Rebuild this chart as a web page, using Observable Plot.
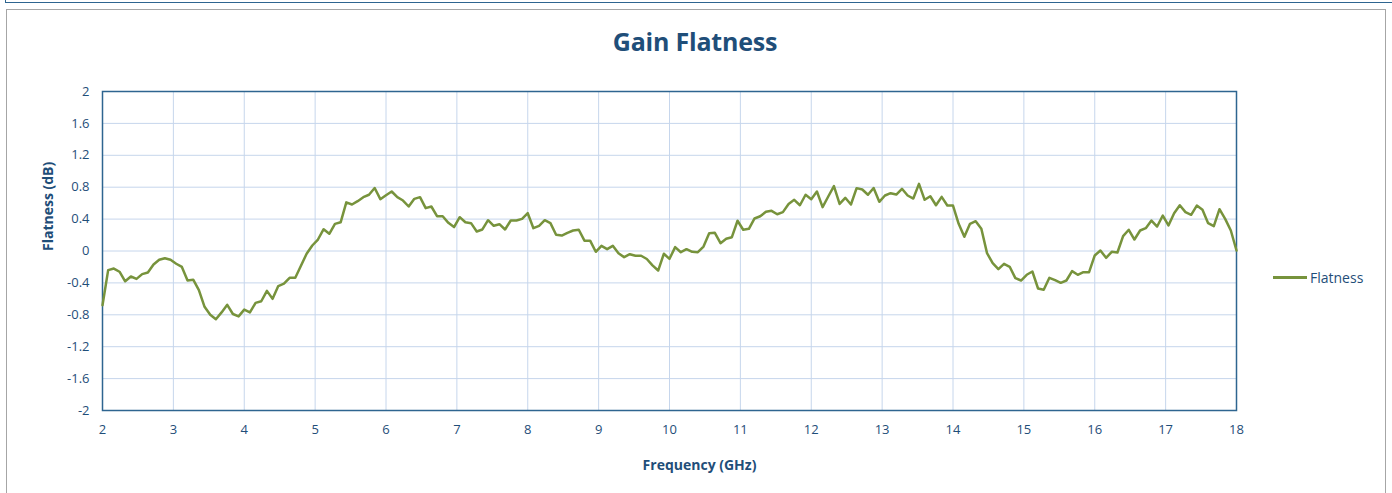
<!DOCTYPE html>
<html>
<head>
<meta charset="utf-8">
<script src="https://cdn.jsdelivr.net/npm/d3@7"></script>
<script src="https://cdn.jsdelivr.net/npm/@observablehq/plot@0.6"></script>
<style>
  html, body { margin: 0; padding: 0; background: #fff; }
  body { width: 1392px; height: 493px; overflow: hidden; position: relative; font-family: "Open Sans", sans-serif; }
  #topbox { position: absolute; left: 5px; top: -10px; width: 1400px; height: 13px; border: 1px solid #2E6590; box-sizing: border-box; }
  #chartbox { position: absolute; left: 6px; top: 9px; width: 1380px; height: 500px; border: 1px solid #A6A6A6; box-sizing: border-box; }
  #title { position: absolute; left: 0; width: 1390px; top: 24px; text-align: center; font-size: 25px; font-weight: bold; color: #1F4E79; letter-spacing: -0.2px; }
  #plot { position: absolute; left: 0; top: 0; }
  #legend { position: absolute; left: 1273px; top: 268px; display: flex; align-items: center; font-size: 14px; color: #1F4E79; }
  #legend .sw { width: 34px; height: 0; border-top: 3px solid #77933C; margin-right: 3px; }
</style>
</head>
<body>
<div id="topbox"></div>
<div id="chartbox"></div>
<div id="plot"></div>
<div id="title">Gain Flatness</div>
<div id="legend"><div class="sw"></div><span>Flatness</span></div>
<script>
const frequencyGHz = [
  2,2.08,2.16,2.24,2.32,2.4,2.48,2.56,2.64,2.72,
  2.8,2.88,2.96,3.04,3.12,3.2,3.28,3.36,3.44,3.52,
  3.6,3.68,3.76,3.84,3.92,4,4.08,4.16,4.24,4.32,
  4.4,4.48,4.56,4.64,4.72,4.8,4.88,4.96,5.04,5.12,
  5.2,5.28,5.36,5.44,5.52,5.6,5.68,5.76,5.84,5.92,
  6,6.08,6.16,6.24,6.32,6.4,6.48,6.56,6.64,6.72,
  6.8,6.88,6.96,7.04,7.12,7.2,7.28,7.36,7.44,7.52,
  7.6,7.68,7.76,7.84,7.92,8,8.08,8.16,8.24,8.32,
  8.4,8.48,8.56,8.64,8.72,8.8,8.88,8.96,9.04,9.12,
  9.2,9.28,9.36,9.44,9.52,9.6,9.68,9.76,9.84,9.92,
  10,10.08,10.16,10.24,10.32,10.4,10.48,10.56,10.64,10.72,
  10.8,10.88,10.96,11.04,11.12,11.2,11.28,11.36,11.44,11.52,
  11.6,11.68,11.76,11.84,11.92,12,12.08,12.16,12.24,12.32,
  12.4,12.48,12.56,12.64,12.72,12.8,12.88,12.96,13.04,13.12,
  13.2,13.28,13.36,13.44,13.52,13.6,13.68,13.76,13.84,13.92,
  14,14.08,14.16,14.24,14.32,14.4,14.48,14.56,14.64,14.72,
  14.8,14.88,14.96,15.04,15.12,15.2,15.28,15.36,15.44,15.52,
  15.6,15.68,15.76,15.84,15.92,16,16.08,16.16,16.24,16.32,
  16.4,16.48,16.56,16.64,16.72,16.8,16.88,16.96,17.04,17.12,
  17.2,17.28,17.36,17.44,17.52,17.6,17.68,17.76,17.84,17.92,
  18
];
const flatnessDb = [
  -0.68,-0.24,-0.22,-0.26,-0.38,-0.32,-0.35,-0.29,-0.27,-0.17,
  -0.11,-0.09,-0.11,-0.16,-0.2,-0.37,-0.36,-0.49,-0.7,-0.8,
  -0.855,-0.77,-0.675,-0.79,-0.82,-0.735,-0.77,-0.65,-0.63,-0.5,
  -0.6,-0.44,-0.41,-0.336,-0.336,-0.186,-0.035,0.069,0.144,0.273,
  0.216,0.34,0.36,0.61,0.583,0.625,0.675,0.705,0.79,0.65,
  0.7,0.746,0.675,0.633,0.558,0.654,0.675,0.537,0.558,0.436,
  0.436,0.353,0.3,0.424,0.36,0.349,0.245,0.27,0.386,0.316,
  0.336,0.27,0.382,0.382,0.403,0.474,0.286,0.316,0.386,0.349,
  0.203,0.194,0.228,0.257,0.266,0.13,0.13,-0.01,0.065,0.023,
  0.065,-0.027,-0.077,-0.04,-0.06,-0.06,-0.1,-0.18,-0.245,-0.035,
  -0.098,0.048,-0.015,0.023,-0.01,-0.015,0.056,0.223,0.228,0.098,
  0.153,0.173,0.379,0.266,0.278,0.408,0.436,0.491,0.504,0.461,
  0.487,0.59,0.642,0.574,0.705,0.65,0.746,0.55,0.683,0.813,
  0.59,0.667,0.583,0.788,0.771,0.705,0.79,0.617,0.696,0.725,
  0.708,0.78,0.696,0.658,0.842,0.642,0.687,0.574,0.679,0.57,
  0.57,0.341,0.178,0.341,0.374,0.278,-0.027,-0.153,-0.228,-0.161,
  -0.198,-0.34,-0.37,-0.298,-0.257,-0.47,-0.487,-0.336,-0.365,-0.399,
  -0.37,-0.253,-0.298,-0.265,-0.265,-0.056,0.006,-0.086,-0.01,-0.019,
  0.186,0.266,0.144,0.257,0.286,0.382,0.307,0.445,0.32,0.474,
  0.574,0.487,0.454,0.57,0.516,0.349,0.311,0.524,0.403,0.257,
  0.006
];
const xTicks = [2,3,4,5,6,7,8,9,10,11,12,13,14,15,16,17,18];
const yTicks = [-2,-1.6,-1.2,-0.8,-0.4,0,0.4,0.8,1.2,1.6,2];
const xTitle = "Frequency (GHz)";
const yTitle = "Flatness (dB)";

const data = frequencyGHz.map((f, i) => ({f, v: flatnessDb[i]}));

const textColor = "#1F4E79";
const gridColor = "#C6D6EC";
const frameColor = "#2E6590";

const chart = Plot.plot({
  width: 1392,
  height: 493,
  marginLeft: 102,
  marginRight: 156,
  marginTop: 91,
  marginBottom: 83,
  style: { fontFamily: "'Open Sans', sans-serif", fontSize: "13px", color: textColor, background: "transparent", overflow: "visible" },
  x: { domain: [2, 18], ticks: xTicks, tickFormat: d => String(d), tickSize: 0, tickPadding: 14, label: null },
  y: { domain: [-2, 2], ticks: yTicks, tickFormat: d => String(d), tickSize: 0, tickPadding: 13, label: null },
  marks: [
    Plot.gridX(xTicks, { stroke: gridColor, strokeOpacity: 1, strokeWidth: 1 }),
    Plot.gridY(yTicks, { stroke: gridColor, strokeOpacity: 1, strokeWidth: 1 }),
    Plot.frame({ stroke: frameColor, strokeWidth: 1.5 }),
    Plot.line(data, { x: "f", y: "v", stroke: "#77933C", strokeWidth: 2.5, strokeLinejoin: "round" }),
    Plot.text([xTitle], { frameAnchor: "bottom", dx: 30, dy: 59, text: d => d, fontWeight: "bold", fontSize: 14, fill: textColor }),
    Plot.text([yTitle], { frameAnchor: "left", dx: -54, rotate: -90, text: d => d, fontWeight: "bold", fontSize: 14, fill: textColor })
  ]
});
document.getElementById("plot").appendChild(chart);
</script>
</body>
</html>
